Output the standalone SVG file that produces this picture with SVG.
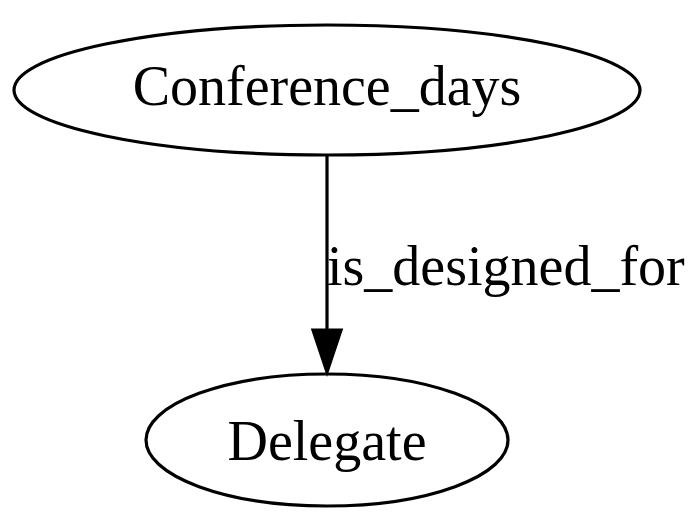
<svg xmlns="http://www.w3.org/2000/svg" width="700" height="532" viewBox="0 0 700 532">
<style>
.node ellipse{fill:none;stroke:#000;stroke-width:3.2}
text{font-family:"Liberation Serif","Times New Roman",serif;font-size:56px;fill:#000}
.edge path{fill:none;stroke:#000;stroke-width:3.2}
.edge polygon{fill:#000;stroke:#000;stroke-width:3.2}
</style>
<rect width="700" height="532" fill="#fff"/>
<g id="node1" class="node">
<ellipse cx="327" cy="90" rx="313" ry="65"/>
<text x="327" y="105" text-anchor="middle">Conference_days</text>
</g>
<g id="node2" class="node">
<ellipse cx="327" cy="440" rx="181" ry="66"/>
<text x="327" y="460" text-anchor="middle">Delegate</text>
</g>
<g id="edges" class="edge">
<path d="M327,155 L327,330"/>
<polygon points="313,330 341,330 327,372"/>
<text x="327" y="285">is_designed_for</text>
</g>
</svg>
